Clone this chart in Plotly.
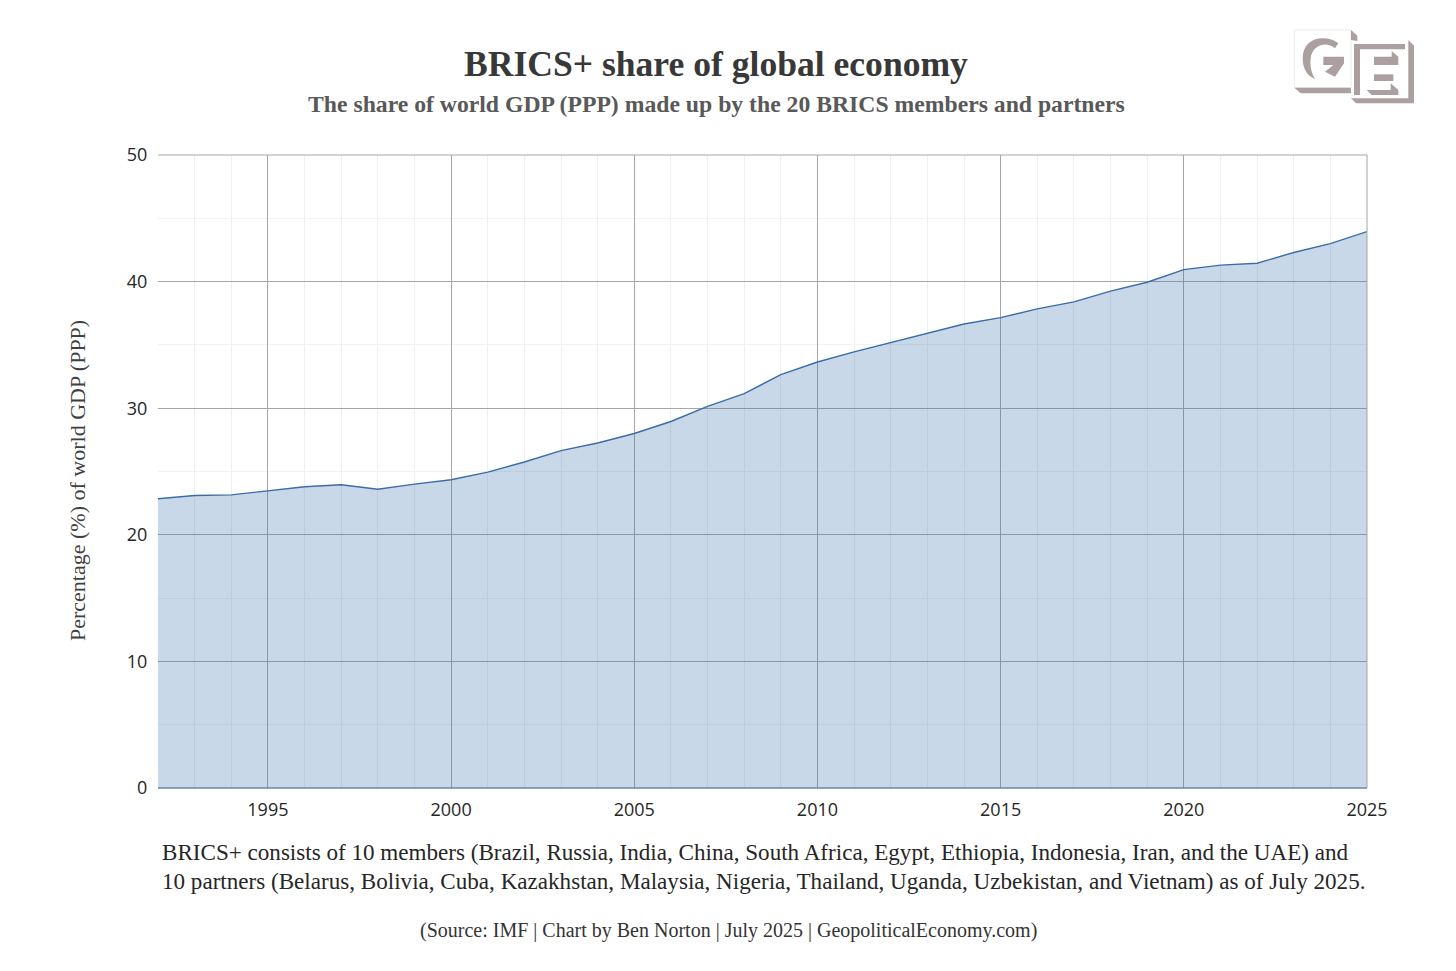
import plotly.graph_objects as go

# BRICS+ share of world GDP (PPP)
years = list(range(1992, 2026))
share = [22.85, 23.1, 23.15, 23.5, 23.8, 23.95, 23.6, 24.0, 24.35, 24.95,
         25.75, 26.65, 27.25, 28.0, 28.95, 30.15, 31.15, 32.65, 33.65, 34.45,
         35.2, 35.95, 36.65, 37.15, 37.85, 38.4, 39.25, 39.95, 40.95, 41.3,
         41.45, 42.3, 43.0, 43.95]

x_ticks = [1995, 2000, 2005, 2010, 2015, 2020, 2025]
y_ticks = [0, 10, 20, 30, 40, 50]

# plot area in page pixels
LEFT, RIGHT, TOP, BOTTOM = 158, 1367, 155, 788
# the browser keeps an 8px margin round the page body
BODY = 8
SERIF = "Liberation Serif"
SANS = "Open Sans"


def px(x):
    return (x - LEFT) / (RIGHT - LEFT)


def py(y):
    return (BOTTOM - y) / (BOTTOM - TOP)


def text(s, x, y, size, color, anchor="center", font=SERIF, bold=False, angle=0):
    if bold:
        s = "<b>" + s + "</b>"
    fig.add_annotation(xref="paper", yref="paper", x=px(x), y=py(y), text=s,
                       showarrow=False, xanchor=anchor, yanchor="middle", textangle=angle,
                       align="left", font=dict(family=font, size=size, color=color))


def logo(path, fill, line=None):
    # path is a list of commands using coordinates of a 3x crop at (1270, 15)
    out = []
    for item in path:
        if isinstance(item, str):
            out.append(item)
        else:
            out.append(f"{px(1270 + item[0] / 3):.5f},{py(15 + item[1] / 3):.5f}")
    fig.add_shape(type="path", xref="paper", yref="paper", path=" ".join(out),
                  fillcolor=fill, line=dict(width=0 if line is None else 1, color=line))


fig = go.Figure()

fig.add_trace(go.Scatter(
    x=years, y=share, mode="lines", fill="tozeroy",
    line=dict(color="#3b6ca8", width=1.4),
    fillcolor="rgba(62,116,176,0.28)",
    hoverinfo="x+y", cliponaxis=False,
))

fig.update_xaxes(
    range=[1992, 2025], tickmode="array", tickvals=x_ticks,
    ticks="outside", ticklen=5, tickcolor="rgba(255,255,255,0)",
    showline=False, zeroline=False, showgrid=True, gridcolor="#a6a6a6", gridwidth=1,
    tickfont=dict(family=SANS, size=18, color="#262626"),
    minor=dict(dtick=1, tick0=1992, showgrid=True, gridcolor="#efefef", gridwidth=1),
)
fig.update_yaxes(
    range=[0, 50], tickmode="array", tickvals=y_ticks,
    ticks="outside", ticklen=6, tickcolor="rgba(255,255,255,0)",
    showline=False, zeroline=False, showgrid=True, gridcolor="#a6a6a6", gridwidth=1,
    tickfont=dict(family=SANS, size=18, color="#262626"),
    minor=dict(dtick=5, tick0=0, showgrid=True, gridcolor="#f2f2f2", gridwidth=1),
)

# axis frame
fig.add_shape(type="line", xref="paper", yref="paper", x0=0, x1=1, y0=0, y1=0,
              line=dict(color="#6f85a3", width=1.5))
fig.add_shape(type="line", xref="paper", yref="paper", x0=0, x1=1, y0=1, y1=1,
              line=dict(color="#a6a6a6", width=1))
fig.add_shape(type="line", xref="paper", yref="paper", x0=1, x1=1, y0=0, y1=1,
              line=dict(color="#a6a6a6", width=1))

text("BRICS+ share of global economy", 716, 64, 35.6, "#383838", bold=True)
text("The share of world GDP (PPP) made up by the 20 BRICS members and partners",
     716, 104, 23.7, "#595959", bold=True)
text("Percentage (%) of world GDP (PPP)", 77, 481, 22, "#404040", angle=-90)
text("BRICS+ consists of 10 members (Brazil, Russia, India, China, South Africa, Egypt, "
     "Ethiopia, Indonesia, Iran, and the UAE) and", 160, 852, 23.1, "#262626", anchor="left")
text("10 partners (Belarus, Bolivia, Cuba, Kazakhstan, Malaysia, Nigeria, Thailand, Uganda, "
     "Uzbekistan, and Vietnam) as of July 2025.", 160, 881, 23.1, "#262626", anchor="left")
text("(Source: IMF | Chart by Ben Norton | July 2025 | GeopoliticalEconomy.com)",
     728, 930, 20, "#333333")

# GE logo
SHADE = "#ab9f9f"
logo(["M", (73, 45), "L", (73, 218), "L", (243, 218), "L", (243, 45), "Z"], "white", "#ececec")
logo(["M", (73, 218), "L", (243, 218), "L", (243, 235), "L", (92, 235), "Z"], SHADE)
logo(["M", (243, 45), "L", (262, 62), "L", (262, 78), "L", (243, 75), "Z"], SHADE)
logo(["M", (243, 250), "L", (415, 250), "L", (415, 75), "L", (432, 92), "L", (432, 265),
      "L", (258, 265), "Z"], SHADE)
logo(["M", (252, 87), "L", (405, 87), "L", (405, 103), "L", (270, 103), "L", (270, 240),
      "L", (252, 240), "Z"], SHADE)
logo(["M", (312, 150), "L", (312, 125), "L", (365, 125), "L", (365, 108), "L", (385, 125),
      "L", (385, 150), "Z"], SHADE)
logo(["M", (312, 178), "L", (370, 178), "L", (370, 198), "L", (312, 198), "Z"], SHADE)
logo(["M", (290, 225), "L", (362, 225), "L", (362, 205), "L", (385, 225), "L", (385, 240),
      "L", (305, 240), "Z"], SHADE)
logo(["M", (205, 85), "C", (175, 60), (100, 60), (98, 130), "C", (98, 165), (115, 185), (135, 192),
      "C", (122, 170), (120, 150), (122, 130), "C", (125, 95), (165, 75), (195, 100), "Z"], SHADE)
logo(["M", (160, 125), "L", (222, 125), "L", (222, 145), "L", (195, 185), "L", (165, 170),
      "L", (190, 150), "L", (160, 150), "Z"], SHADE)

fig.update_layout(
    width=1440, height=955,
    margin=dict(l=LEFT - BODY, r=1440 - (RIGHT - BODY), t=TOP - BODY, b=955 - (BOTTOM - BODY),
                autoexpand=False),
    paper_bgcolor="white", plot_bgcolor="white", showlegend=False,
)

fig.write_html("out.html")
